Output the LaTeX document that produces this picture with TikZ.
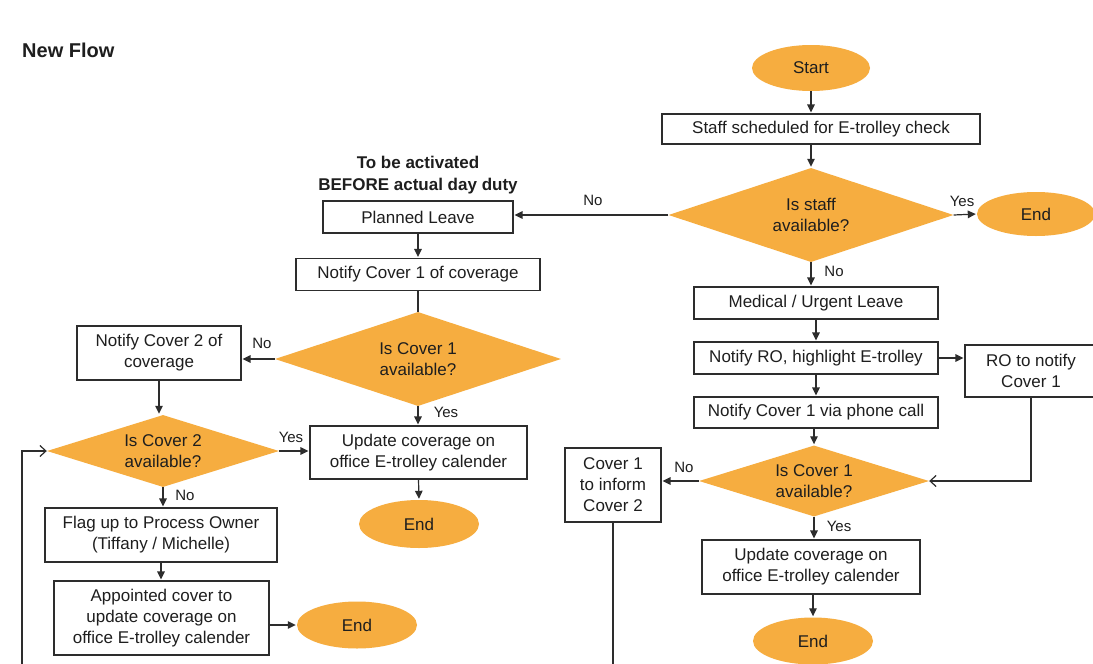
\documentclass[tikz,border=0pt]{standalone}
\usepackage{fontspec}
\setmainfont{Liberation Sans}
\usetikzlibrary{shapes.geometric,arrows.meta}
\definecolor{orng}{RGB}{246,173,64}
\definecolor{ink}{RGB}{30,30,30}
\definecolor{edge}{RGB}{45,45,45}
\begin{document}
\begin{tikzpicture}[x=1pt,y=-1pt,
  font=\fontsize{17}{21}\selectfont,
  box/.style={draw=edge, line width=1.1pt, fill=white, inner sep=0pt, align=center, text=ink},
  dec/.style={diamond, fill=orng, inner sep=0pt, aspect=3, align=center, text=ink},
  term/.style={ellipse, fill=orng, inner sep=0pt, text=ink},
  arr/.style={-{Triangle[length=8pt,width=7.5pt]}, line width=1.2pt, draw=edge, shorten >=1pt},
  plain/.style={line width=1.2pt, draw=edge},
  openarr/.style={-{Straight Barb[length=6pt,width=11pt]}, line width=1.2pt, draw=edge},
  lbl/.style={font=\fontsize{15}{18}\selectfont, text=ink, inner sep=0pt},
  hdr/.style={font=\bfseries\fontsize{17}{22}\selectfont, text=ink, align=center, inner sep=0pt}
]
\useasboundingbox (0,0) rectangle (1093,664);
\clip (0,0) rectangle (1093,664);
\fill[white] (0,0) rectangle (1093,664);

% title
\node[anchor=west, inner sep=0pt, text=ink, font=\bfseries\fontsize{20}{24}\selectfont] (title) at (22,50) {New Flow};

% right main column
\node[term, minimum width=118pt, minimum height=46pt] (start) at (811,68) {Start};
\node[box, minimum width=318pt, minimum height=30pt] (staff) at (821,129) {Staff scheduled for E-trolley check};
\node[dec, minimum width=285pt, minimum height=94pt] (q1) at (811,215) {Is staff\\available?};
\node[term, minimum width=118pt, minimum height=44pt] (end1) at (1036,214) {End};

% left planned leave branch
\node[hdr] (hdr) at (418,175) {To be activated\\BEFORE actual day duty};
\node[box, minimum width=190pt, minimum height=32pt] (planned) at (418,217) {Planned Leave};
\node[box, minimum width=244pt, minimum height=32pt] (notify1) at (418,274.5) {Notify Cover 1 of coverage};
\node[dec, minimum width=286pt, minimum height=94pt] (q2) at (418,359) {Is Cover 1\\available?};
\node[box, minimum width=164pt, minimum height=54pt] (notify2) at (159,353) {Notify Cover 2 of\\coverage};
\node[dec, minimum width=232pt, minimum height=72pt] (q3) at (163,451) {Is Cover 2\\available?};
\node[box, minimum width=217pt, minimum height=53pt] (update1) at (418.5,452.5) {Update coverage on\\office E-trolley calender};
\node[term, minimum width=120pt, minimum height=48pt] (end2) at (419,524) {End};
\node[box, minimum width=232pt, minimum height=54pt] (flag) at (161,535) {Flag up to Process Owner\\(Tiffany / Michelle)};
\node[box, minimum width=215pt, minimum height=74pt] (appointed) at (161.5,618) {Appointed cover to\\update coverage on\\office E-trolley calender};
\node[term, minimum width=120pt, minimum height=47pt] (end3) at (357,625) {End};

% right urgent leave branch
\node[box, minimum width=244pt, minimum height=32pt] (medical) at (816,303) {Medical / Urgent Leave};
\node[box, minimum width=244pt, minimum height=32pt] (notifyRO) at (816,358) {Notify RO, highlight E-trolley};
\node[box, minimum width=132pt, minimum height=52pt] (ROnotify) at (1031,371) {RO to notify\\Cover 1};
\node[box, minimum width=244pt, minimum height=31pt] (phone) at (816,412.5) {Notify Cover 1 via phone call};
\node[dec, minimum width=230pt, minimum height=71pt] (q4) at (814,481) {Is Cover 1\\available?};
\node[box, minimum width=96pt, minimum height=74pt] (inform) at (613,485) {Cover 1\\to inform\\Cover 2};
\node[box, minimum width=218pt, minimum height=54pt] (update2) at (811,567) {Update coverage on\\office E-trolley calender};
\node[term, minimum width=120pt, minimum height=47pt] (end4) at (813,641) {End};

\coordinate (loopS) at (22,670);
\coordinate (informS) at (613,670);

% connectors - main
\draw[arr] (start.south) -- (start.south |- staff.north);
\draw[arr] (staff.south -| q1.north) -- (q1.north);
\draw[arr] (q1.east) -- (end1.west);
\node[lbl] (yes1) at (962,201) {Yes};
\draw[arr] (q1.west) -- (q1.west -| planned.east);
\node[lbl] (no1) at (593,200) {No};
\draw[arr] (q1.south) -- (q1.south |- medical.north);
\node[lbl] (no2) at (834,271) {No};

% planned branch
\draw[arr] (planned.south) -- (notify1.north);
\draw[plain] (notify1.south) -- (q2.north);
\draw[arr] (q2.west) -- (q2.west -| notify2.east);
\node[lbl] (no3) at (262,343) {No};
\draw[arr] (q2.south) -- (q2.south |- update1.north);
\node[lbl] (yes2) at (446,412) {Yes};
\draw[arr] (update1.south) -- (end2.north);
\draw[arr] (notify2.south) -- (notify2.south |- q3.north);
\draw[arr] (q3.east) -- (q3.east -| update1.west);
\node[lbl] (yes3) at (291,437) {Yes};
\draw[arr] (q3.south) -- (q3.south |- flag.north);
\node[lbl] (no4) at (185,495) {No};
\draw[arr] (flag.south) -- (flag.south |- appointed.north);
\draw[arr] (appointed.east |- end3.west) -- (end3.west);
\draw[openarr] (loopS) |- (q3.west);

% urgent branch
\draw[arr] (medical.south) -- (notifyRO.north);
\draw[arr] (notifyRO.east) -- (notifyRO.east -| ROnotify.west);
\draw[arr] (notifyRO.south) -- (phone.north);
\draw[arr] (phone.south -| q4.north) -- (q4.north);
\draw[openarr] (ROnotify.south) |- (q4.east);
\draw[arr] (q4.west) -- (q4.west -| inform.east);
\node[lbl] (no5) at (684,467) {No};
\draw[arr] (q4.south) -- (q4.south |- update2.north);
\node[lbl] (yes4) at (839,526) {Yes};
\draw[arr] (update2.south -| end4.north) -- (end4.north);
\draw[plain] (inform.south) -- (informS);
\end{tikzpicture}
\end{document}
